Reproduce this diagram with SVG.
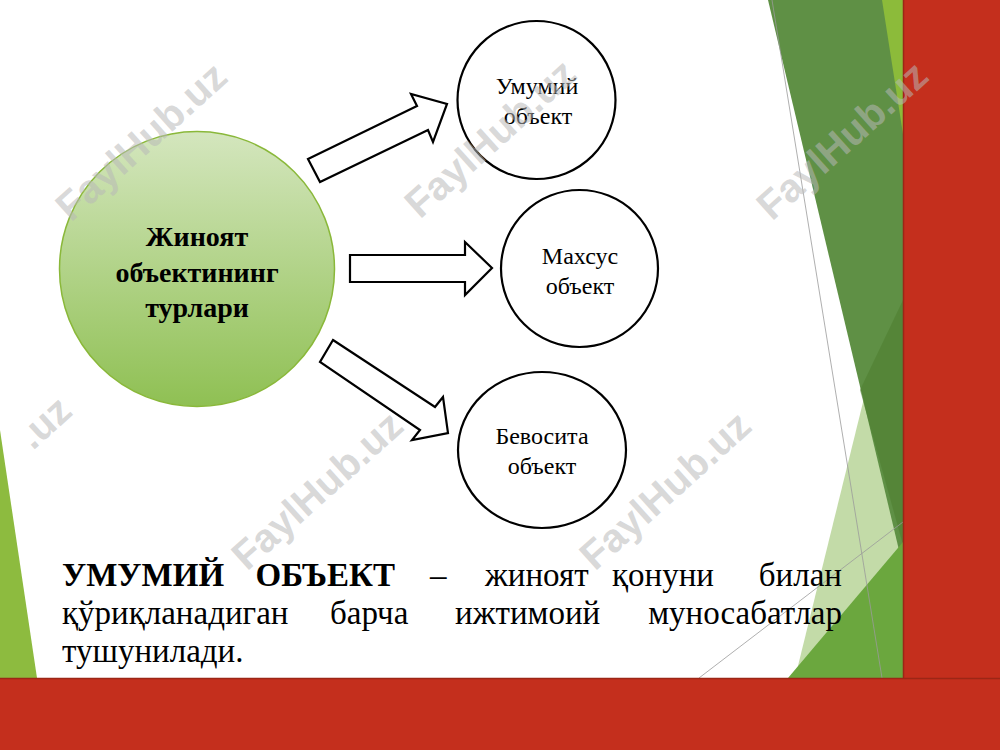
<svg xmlns="http://www.w3.org/2000/svg" width="1000" height="750" viewBox="0 0 1000 750">
<defs>
<linearGradient id="gc" x1="0" y1="0" x2="0" y2="1">
<stop offset="0" stop-color="#D4E6BE"/>
<stop offset="1" stop-color="#8FC053"/>
</linearGradient>
<style>
.arrow{fill:#FFFFFF;stroke:#000000;stroke-width:2.2;stroke-linejoin:miter}
.node{fill:#FFFFFF;stroke:#000000;stroke-width:2.2}
.nt{font-family:"Liberation Serif","Times New Roman",serif;font-size:24px;fill:#000000;text-anchor:middle}
.ct{font-family:"Liberation Serif","Times New Roman",serif;font-size:28px;font-weight:bold;fill:#000000;text-anchor:middle}
.bt{font-family:"Liberation Serif","Times New Roman",serif;font-size:33px;fill:#000000}
.wm{font-family:"Liberation Sans",Arial,sans-serif;font-size:40px;font-weight:bold;fill:#B8B8B8;fill-opacity:0.55;text-anchor:middle}
.thin{stroke:#9A9A9A;stroke-width:0.8;fill:none}
</style>
</defs>
<rect x="0" y="0" width="1000" height="750" fill="#FFFFFF"/>
<g id="decor">
<polygon points="0,430 37,678 0,678" fill="#8DBB3F"/>
<polygon points="795,678 903,240 903,678" fill="#C3DBA8"/>
<polygon points="768,0 903,0 903,567" fill="#5F9045"/>
<polygon points="903,300 903,545 860,390" fill="#4F7F30" fill-opacity="0.6"/>
<polygon points="882,0 903,0 903,134" fill="#8CBB3A"/>
<polygon points="788,678 903,542 903,678" fill="#6BA73E"/>
<line class="thin" x1="772" y1="0" x2="882" y2="678"/>
<line class="thin" x1="903" y1="522" x2="699" y2="678"/>
<rect x="903" y="0" width="97" height="678" fill="#C42F1D"/>
<line x1="903.5" y1="0" x2="903.5" y2="678" stroke="#9C2616" stroke-width="1.5"/>
<rect x="0" y="678" width="1000" height="72" fill="#C42F1D"/>
<line x1="0" y1="678.5" x2="1000" y2="678.5" stroke="#9C2616" stroke-width="1.5"/>
</g>
<g id="connectors">
<polygon class="arrow" points="308,159 417,106 411,94 447,104 433,142 428,130 320,182"/>
<polygon class="arrow" points="350,255 465,255 465,242 492,268 465,295 465,282 350,282"/>
<polygon class="arrow" points="333,340 435,407 443,397 448,433 412,440 420,430 320,362"/>
</g>
<g id="center">
<circle cx="197" cy="269" r="137.5" fill="url(#gc)" stroke="#8AB83A" stroke-width="1.5"/>
<text class="ct" x="197" y="246">Жиноят</text>
<text class="ct" x="197" y="282">объектининг</text>
<text class="ct" x="197" y="317">турлари</text>
</g>
<g id="node-umumiy">
<circle class="node" cx="536.5" cy="100" r="79"/>
<text class="nt" x="537" y="94">Умумий</text>
<text class="nt" x="538" y="124">объект</text>
</g>
<g id="node-mahsus">
<circle class="node" cx="579.5" cy="268.5" r="78.5"/>
<text class="nt" x="580" y="264">Махсус</text>
<text class="nt" x="580" y="294">объект</text>
</g>
<g id="node-bevosita">
<ellipse class="node" cx="542" cy="450" rx="84" ry="78"/>
<text class="nt" x="542" y="444">Бевосита</text>
<text class="nt" x="542" y="474">объект</text>
</g>
<g id="body-text">
<text class="bt" x="62" y="586" font-weight="bold">УМУМИЙ</text>
<text class="bt" x="395" y="586" font-weight="bold" text-anchor="end">ОБЪЕКТ</text>
<text class="bt" x="430" y="586">–</text>
<text class="bt" x="485" y="586">жиноят</text>
<text class="bt" x="612" y="586">қонуни</text>
<text class="bt" x="842" y="586" text-anchor="end">билан</text>
<text class="bt" x="62" y="624">қўриқланадиган</text>
<text class="bt" x="330" y="624">барча</text>
<text class="bt" x="455" y="624">ижтимоий</text>
<text class="bt" x="842" y="624" text-anchor="end">муносабатлар</text>
<text class="bt" x="62" y="662">тушунилади.</text>
</g>
<g id="watermarks">
<text class="wm" transform="translate(141,141) rotate(-42)" y="14">FaylHub.uz</text>
<text class="wm" transform="translate(490,138) rotate(-42)" y="14">FaylHub.uz</text>
<text class="wm" transform="translate(842,140) rotate(-42)" y="14">FaylHub.uz</text>
<text class="wm" transform="translate(44,422) rotate(-42)" y="14">.uz</text>
<text class="wm" transform="translate(317,490) rotate(-42)" y="14">FaylHub.uz</text>
<text class="wm" transform="translate(665,490) rotate(-42)" y="14">FaylHub.uz</text>
</g>
</svg>
